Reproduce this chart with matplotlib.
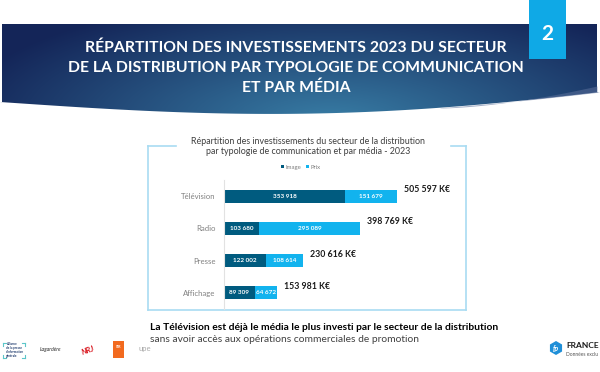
import numpy as np
import matplotlib
matplotlib.use("Agg")
import matplotlib.pyplot as plt
from matplotlib.patches import Polygon, Rectangle, RegularPolygon

plt.rcParams['font.family'] = ['Lato', 'DejaVu Sans']

# data (K€)
categories = ["Télévision", "Radio", "Presse", "Affichage"]
image_vals = [353918, 103680, 122002, 89309]
prix_vals = [151679, 295089, 108614, 64672]
totals = [505597, 398769, 230616, 153981]
series_names = ["Image", "Prix"]

C_IMAGE = "#005b7f"
C_PRIX = "#12b3ee"
C_FRAME = "#a9dcf2"

W, H = 600, 372
fig = plt.figure(figsize=(6, 3.72), dpi=100)
fig.patch.set_facecolor("white")

# background axes in pixel coords (y down)
bg = fig.add_axes([0, 0, 1, 1])
bg.set_xlim(0, W); bg.set_ylim(H, 0); bg.axis('off')

# banner with radial gradient
yy, xx = np.mgrid[0:120, 0:W]
d = np.sqrt(((xx - 330) / 330.0) ** 2 + ((yy - 120) / 110.0) ** 2)
t = np.clip(d / 1.15, 0, 1)[..., None]
c_in = np.array([0x38, 0x7d, 0xa5]) / 255
c_out = np.array([0x14, 0x25, 0x58]) / 255
grad = c_in * (1 - t) + c_out * t
im = bg.imshow(grad, extent=[0, W, 120, 0], zorder=1, interpolation='bilinear', aspect='auto')
xs = np.linspace(0, W, 80)
bottom = 102 + 13 * np.sin(np.pi * xs / W) - 10 * (xs / W) ** 3
verts = [(2, 24), (597, 24), (597, bottom[-1])] + list(zip(xs[::-1], bottom[::-1])) + [(2, bottom[0])]
banner = Polygon(verts, closed=True, transform=bg.transData, facecolor='none', edgecolor='none')
bg.add_patch(banner)
im.set_clip_path(banner)
# light swoosh at the right
sx = np.linspace(440, 597, 30)
s_top = 108 - 22 * ((sx - 440) / 157) ** 1.6
s_bot = 102 + 13 * np.sin(np.pi * sx / W) - 10 * (sx / W) ** 3
bg.fill_between(sx, s_top, s_bot, color="#5a6f9a", alpha=0.55, zorder=2, lw=0)

# number tab
bg.add_patch(Rectangle((529, 0), 37, 59, facecolor="#0fa9e6", edgecolor='none', zorder=3))
bg.text(547.5, 34, "2", color='white', fontsize=15, fontweight='bold', ha='center', va='center', zorder=4)

title_lines = ["RÉPARTITION DES INVESTISSEMENTS 2023 DU SECTEUR",
               "DE LA DISTRIBUTION PAR TYPOLOGIE DE COMMUNICATION",
               "ET PAR MÉDIA"]
for i, line in enumerate(title_lines):
    bg.text(296, 48 + 20 * i, line, color='white', fontsize=11.3, fontweight='bold',
            ha='center', va='center', zorder=4)

# chart frame
kw = dict(color=C_FRAME, lw=1.2, zorder=2)
bg.plot([148, 176], [146, 146], **kw)
bg.plot([451, 466], [146, 146], **kw)
bg.plot([148, 148], [146, 310], **kw)
bg.plot([466, 466], [146, 310], **kw)
bg.plot([148, 466], [310, 310], **kw)
bg.text(308, 141, "Répartition des investissements du secteur de la distribution",
        fontsize=6.4, color="#3f3f3f", ha='center', va='center')
bg.text(308, 152, "par typologie de communication et par média - 2023",
        fontsize=6.4, color="#3f3f3f", ha='center', va='center')

# footer text
bg.text(150, 328, "La Télévision est déjà le média le plus investi par le secteur de la distribution",
        fontsize=7.4, fontweight='bold', color='black', ha='left', va='center')
bg.text(150, 340, "sans avoir accès aux opérations commerciales de promotion",
        fontsize=7.4, color='#404040', ha='left', va='center')

# logos (approximations)
bg.text(6, 350, "Alliance\nde la presse\nd'information\ngénérale", fontsize=2.2, color="#1f3b6e",
        ha='left', va='center', fontweight='bold', linespacing=0.9)
for (x0, y0, dx, dy) in [(3, 343, 3, 3), (25, 343, -3, 3), (3, 358, 3, -3), (25, 358, -3, -3)]:
    bg.plot([x0, x0 + dx], [y0, y0], color="#5cc6c9", lw=0.8)
    bg.plot([x0, x0], [y0, y0 + dy], color="#5cc6c9", lw=0.8)
bg.text(50, 349, "Lagardère", fontsize=3.8, color="#333333", style='italic', ha='center', va='center')
bg.text(88, 350, "NRJ", fontsize=5.5, color="#d8141c", fontweight='bold', style='italic',
        ha='center', va='center', rotation=20)
bg.add_patch(Rectangle((113, 341), 11, 17, facecolor="#f26a1f", edgecolor='none'))
bg.text(118.5, 347, "SIR", fontsize=2.8, color='white', ha='center', va='center', fontweight='bold')
bg.text(145, 349, "upe", fontsize=5.5, color="#aaaaaa", ha='center', va='center')
bg.add_patch(RegularPolygon((556, 348), 6, radius=7, facecolor="#1f8fd8", edgecolor='none'))
bg.text(556, 348, "fp", fontsize=5, color='white', style='italic', fontweight='bold', ha='center', va='center')
bg.text(566, 346, "FRANCE", fontsize=6, fontweight='bold', color="#1a1a1a", ha='left', va='center')
bg.text(566, 354, "Données exclu", fontsize=3.5, color="#555555", ha='left', va='center')

# bar chart
ax = fig.add_axes([224 / W, (H - 309) / H, 240 / W, 129 / H])
ax.set_facecolor('none')
y = np.arange(len(categories))
b1 = ax.barh(y, image_vals, height=0.4, color=C_IMAGE, label=series_names[0])
b2 = ax.barh(y, prix_vals, left=image_vals, height=0.4, color=C_PRIX, label=series_names[1])
ax.set_xlim(0, 240 / 0.000342)
ax.set_ylim(len(categories) - 0.5, -0.5)

def fmt(v):
    return f"{v:,}".replace(",", " ")

for i in range(len(categories)):
    ax.text(image_vals[i] / 2, y[i], fmt(image_vals[i]), color='white', fontsize=4.6,
            fontweight='bold', ha='center', va='center')
    ax.text(image_vals[i] + prix_vals[i] / 2, y[i], fmt(prix_vals[i]), color='white', fontsize=4.6,
            fontweight='bold', ha='center', va='center')
    ax.annotate(fmt(totals[i]) + " K€", (totals[i], y[i] - 0.2), xytext=(5, 0),
                textcoords='offset points', fontsize=6.3, fontweight='bold', color='#1a1a1a',
                ha='left', va='center')

ax.set_yticks(y)
ax.set_yticklabels(categories, fontsize=5.6, color='#808080')
ax.tick_params(axis='y', length=0, pad=6)
ax.set_xticks([])
for s in ['top', 'right', 'bottom']:
    ax.spines[s].set_visible(False)
ax.spines['left'].set_color('#e2e2e2')
ax.spines['left'].set_linewidth(0.8)

ax.legend(handles=[b1, b2], loc='center', bbox_to_anchor=(0.32, 1.10), ncol=2, frameon=False,
          fontsize=4.3, handlelength=0.5, handleheight=0.5, handletextpad=0.2, columnspacing=0.9,
          labelcolor='#7f7f7f')

fig.savefig("out.png", dpi=100)
